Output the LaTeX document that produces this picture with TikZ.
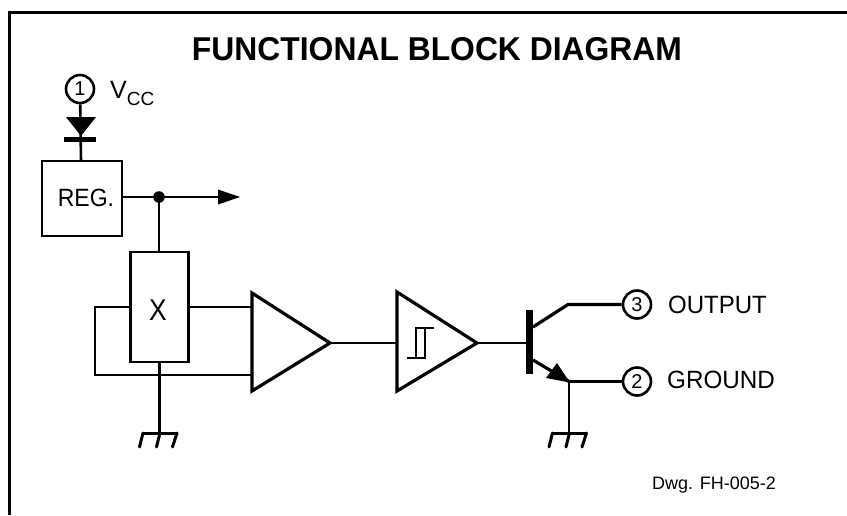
\documentclass[tikz,border=0pt]{standalone}
\usepackage{graphicx}
\usepackage{fontspec}
\setmainfont{Liberation Sans}
\newcommand{\gndsym}[1]{%
  \draw[gndw] (#1) ++(-16.5,0) -- ++(34,0);
  \draw[gndw] (#1) ++(-16.5,0) -- ++(-3.5,14);
  \draw[gndw] (#1) ++(0.5,0) -- ++(-3.5,14);
  \draw[gndw] (#1) ++(17.5,0) -- ++(-4.5,14);
}
\begin{document}
\begin{tikzpicture}[x=1pt,y=-1pt,
  wire/.style={line width=2.6pt,line join=miter,line cap=butt},
  gndw/.style={line width=3pt,line join=round,line cap=round},
  block/.style={draw,line width=2.6pt,inner sep=0pt,fill=white},
  pin/.style={draw,circle,line width=2.6pt,minimum size=28pt,inner sep=0pt,font=\fontsize{20}{20}\selectfont,fill=white},
  lab/.style={inner sep=0pt,anchor=west,font=\fontsize{25}{26}\selectfont},
  amp/.style={line width=3.2pt,line join=miter,fill=white}]
\useasboundingbox (0,0) rectangle (847,515);
\fill[white] (0,0) rectangle (847,515);
\draw[line width=3.5pt] (9.3,515) -- (9.3,12.5) -- (847,12.5);
\node[inner sep=0pt,font=\bfseries\fontsize{33}{34}\selectfont] (title) at (437,49) {\scalebox{.965}[1]{FUNCTIONAL BLOCK DIAGRAM}};
% nodes
\node[pin] (p1) at (80,89) {1};
\node[lab,anchor=base west] (vcc) at (110,98) {V\raisebox{-7pt}{\fontsize{19}{20}\selectfont CC}};
\node[block,minimum width=80pt,minimum height=75pt] (reg) at (82,198.5) {};
\node[inner sep=0pt,font=\fontsize{25}{26}\selectfont] (regt) at (86,198) {\scalebox{.92}[1]{REG.}};
\coordinate (dot) at (159,197);
\coordinate (arrowend) at (240,197);
\coordinate (arrowbase) at (218,197);
\node[block,minimum width=58pt,minimum height=110pt] (x) at (159.5,307) {};
\node[inner sep=0pt,font=\fontsize{30}{31}\selectfont] (xt) at (158,310) {\scalebox{.88}[1]{X}};
\node[pin] (p3) at (637,304.5) {3};
\node[pin] (p2) at (637,381.5) {2};
\node[lab] (out) at (668,305) {\scalebox{.96}[1]{OUTPUT}};
\node[lab] (grd) at (667,380) {\scalebox{.97}[1]{GROUND}};
\node[inner sep=0pt,anchor=west,font=\fontsize{18}{19}\selectfont] (dwg) at (652,485) {Dwg. FH-005-2};
\coordinate (a1w) at (252,343);
\coordinate (a1e) at (330,343);
\coordinate (a2w) at (397,343);
\coordinate (a2e) at (477,343);
\coordinate (base) at (526,343);
\coordinate (g1) at (159.5,433);
\coordinate (g2) at (569,433);
\coordinate (ej) at (569,381.5);
% diode
\draw[wire] (p1) -- (81,161);
\fill (66,117) -- (96,117) -- (81,136) -- cycle;
\draw[line width=5pt] (64,139) -- (96,139);
% reg out
\draw[wire] (reg.east |- dot) -- (arrowbase);
\fill (218,189.5) -- (arrowend) -- (218,204.5) -- cycle;
\draw[wire] (dot) -- (x.north -| dot);
\fill (dot) circle (5.8);
% X loop
\draw[wire] (x.west |- 0,307) -- (95,307) -- (95,375) -- (252,375);
\draw[wire] (x.east |- 0,307) -- (252,307);
\draw[wire] (x.south) -- (g1);
\gndsym{g1}
% amps
\draw[wire] (a1e) -- (a2w);
\draw[wire] (a2e) -- (base);
\draw[amp] (252,293) -- (a1e) -- (252,391) -- cycle;
\draw[amp] (397,292) -- (a2e) -- (397,391) -- cycle;
% hysteresis
\draw[wire] (434,328) -- (416,328) -- (416,358) -- (407,358);
\draw[wire] (425,328) -- (425,358) -- (416,358);
% transistor
\fill (526,310) rectangle (533,374);
\draw[line width=3.2pt,line join=miter] (533,327) -- (568,304.5) -- (p3);
\draw[line width=3.2pt] (533,360) -- (ej);
\fill (ej) ++(1,1) -- (546,378) -- (557,363) -- cycle;
\draw[wire] (ej) -- (p2);
\draw[wire] (ej) -- (g2);
\gndsym{g2}
\end{tikzpicture}
\end{document}
